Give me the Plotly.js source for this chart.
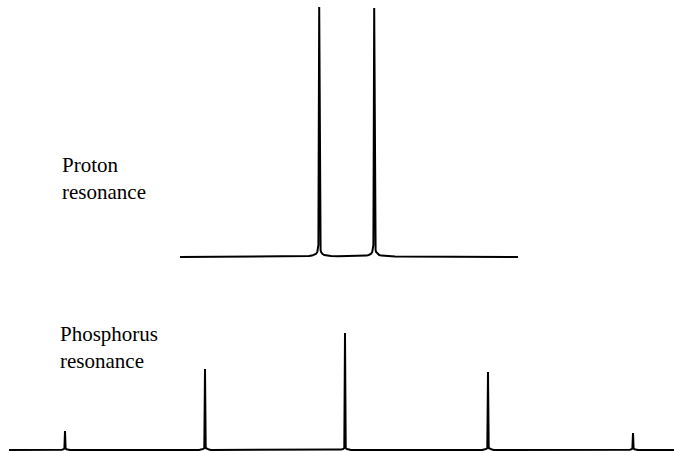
<!DOCTYPE html>
<html>
<head>
<meta charset="utf-8">
<script src="https://cdn.plot.ly/plotly-3.0.1.min.js"></script>
<style>
  html, body { margin: 0; padding: 0; background: #fff; }
  #myDiv { width: 674px; height: 451px; }
</style>
</head>
<body>
<div id="myDiv"></div>
<script>
// proton spectrum: doublet (shift in chart units, intensity)
var protonShift = [180, 300, 305, 309, 312, 314.3, 315.8, 317.3, 317.8, 318.4, 319.2, 320.0, 320.6, 321.1, 322.6, 324.3, 326.5, 331, 338, 346.5,
                   355, 362, 366.5, 368.7, 370.8, 372.2, 372.7, 373.4, 374.2, 375.0, 375.6, 376.1, 377.6, 379.2, 381.5, 386, 395, 518];
var protonInt   = [0, 0.4, 0.6, 0.9, 1.4, 2, 3, 5, 7, 12, 250, 12, 7, 5, 3, 2, 1.4, 0.9, 0.7, 0.9,
                   0.7, 0.9, 1.4, 2, 3, 5, 7, 12, 249, 12, 7, 5, 3, 2, 1.4, 0.9, 0.6, 0];

// phosphorus spectrum: quintet
var phosShift = [9, 60, 62, 63.5, 64.4, 65, 65.6, 66.5, 68, 70,
                 199, 201, 203, 204.3, 205, 205.7, 207, 209, 211,
                 339, 341, 343, 344.3, 345, 345.7, 347, 349, 351,
                 482, 484, 486, 487.3, 488, 488.7, 490, 492, 494,
                 628, 630, 631.5, 632.4, 633, 633.6, 634.5, 636, 638, 674];
var phosInt   = [0, 0, 0.3, 0.8, 1.5, 19, 1.5, 0.8, 0.3, 0,
                 0, 0.4, 1, 2, 81, 2, 1, 0.4, 0,
                 0, 0.4, 1, 2, 117, 2, 1, 0.4, 0,
                 0, 0.4, 1, 2, 78, 2, 1, 0.4, 0,
                 0, 0.3, 0.8, 1.5, 17, 1.5, 0.8, 0.3, 0, 0];

var labels = ['Proton<br>resonance', 'Phosphorus<br>resonance'];

var trace1 = {
    x: protonShift,
    y: protonInt,
    yaxis: 'y2',
    type: 'scatter',
    mode: 'lines',
    line: {color: '#000', width: 2},
    hoverinfo: 'skip'
};

var trace2 = {
    x: phosShift,
    y: phosInt,
    type: 'scatter',
    mode: 'lines',
    line: {color: '#000', width: 2},
    hoverinfo: 'skip'
};

var hidden = {
    visible: false,
    showgrid: false,
    zeroline: false,
    fixedrange: true
};

var labelFont = {family: 'Liberation Serif', size: 21, color: '#000'};

var layout = {
    width: 674,
    height: 451,
    margin: {l: 0, r: 0, t: 0, b: 0, pad: 0},
    paper_bgcolor: '#fff',
    plot_bgcolor: '#fff',
    showlegend: false,
    xaxis: Object.assign({range: [0, 674]}, hidden),
    yaxis: Object.assign({range: [-1, 450]}, hidden),
    yaxis2: Object.assign({range: [-194, 257], overlaying: 'y'}, hidden),
    annotations: [
        {
            text: labels[0], xref: 'paper', yref: 'paper',
            x: 60 / 674, y: 1 - 151 / 451, xanchor: 'left', yanchor: 'top',
            align: 'left', showarrow: false, font: labelFont
        },
        {
            text: labels[1], xref: 'paper', yref: 'paper',
            x: 58 / 674, y: 1 - 320 / 451, xanchor: 'left', yanchor: 'top',
            align: 'left', showarrow: false, font: labelFont
        }
    ]
};

var config = {
    staticPlot: true
};

Plotly.newPlot(document.getElementById('myDiv'), [trace1, trace2], layout, config);
</script>
</body>
</html>
